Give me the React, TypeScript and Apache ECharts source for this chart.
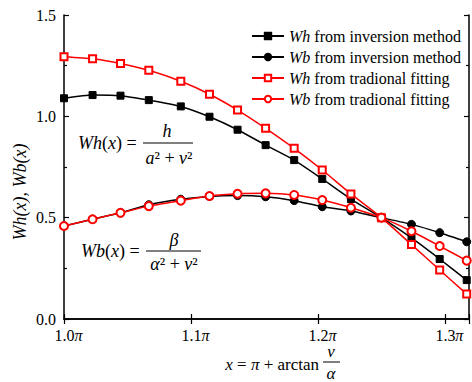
import React, { useEffect, useRef } from "react";
import * as echarts from "echarts";

const xVals = [1.0, 1.0225, 1.0445, 1.0668, 1.092, 1.1146, 1.1367, 1.1588, 1.1813, 1.2034, 1.226, 1.25, 1.2737, 1.2959, 1.3172];
const whInversion = [1.089, 1.105, 1.102, 1.08, 1.049, 0.998, 0.934, 0.858, 0.784, 0.691, 0.592, 0.5, 0.4, 0.296, 0.192];
const wbInversion = [0.459, 0.492, 0.524, 0.564, 0.591, 0.605, 0.609, 0.603, 0.584, 0.554, 0.533, 0.5, 0.467, 0.426, 0.381];
const whFitting = [1.294, 1.284, 1.261, 1.227, 1.173, 1.109, 1.031, 0.941, 0.842, 0.735, 0.617, 0.5, 0.367, 0.242, 0.123];
const wbFitting = [0.459, 0.492, 0.524, 0.557, 0.584, 0.607, 0.618, 0.62, 0.612, 0.587, 0.549, 0.5, 0.433, 0.36, 0.288];

const seriesNames = [
  "Wh from inversion method",
  "Wb from inversion method",
  "Wh from tradional fitting",
  "Wb from tradional fitting",
];

const FONT = "'Liberation Serif', 'Times New Roman', serif";

export default function App() {
  const ref = useRef<HTMLDivElement>(null);

  useEffect(() => {
    if (!ref.current) return;
    const chart = echarts.init(ref.current, null, { renderer: "svg" });
    const pair = (arr: number[]) => xVals.map((x, i) => [x, arr[i]]);

    const mk = (name: string, arr: number[], color: string, symbol: string, size: number) => ({
      name,
      type: "line",
      data: pair(arr),
      smooth: 0.2,
      symbol,
      symbolSize: size,
      lineStyle: { color, width: 1.5 },
      itemStyle: { color, borderColor: color, borderWidth: 1 },
      z: 3,
    });

    const baseAxis = {
      axisLine: { show: true, lineStyle: { color: "#000", width: 1.5 } },
      splitLine: { show: false },
    };

    const yLabel = (v: number) => v.toFixed(1);
    const xLabel = (v: number) => {
      if (Math.abs(v * 10 - Math.round(v * 10)) > 1e-6) return "";
      return `{n|${v.toFixed(1)}}{p|π}`;
    };

    const plain = (x: number, y: number, text: string, font: string, align = "center") => ({
      type: "text",
      x,
      y,
      style: { text, font, fill: "#000", align, verticalAlign: "middle" },
      z: 10,
    });

    const richText = (x: number, y: number, text: string, rich: any, size: number, align = "center") => ({
      type: "text",
      x,
      y,
      style: {
        text,
        rich,
        font: `${size}px ${FONT}`,
        fill: "#000",
        align,
        verticalAlign: "middle",
      },
      z: 10,
    });

    const richF = {
      i: { fontFamily: FONT, fontSize: 18, fontStyle: "italic", color: "#000" },
      n: { fontFamily: FONT, fontSize: 18, color: "#000" },
    };
    const richX = {
      i: { fontFamily: FONT, fontSize: 17, fontStyle: "italic", color: "#000" },
      n: { fontFamily: FONT, fontSize: 17, color: "#000" },
    };

    chart.setOption({
      animation: false,
      backgroundColor: "#fff",
      grid: { left: 64, top: 15, right: 0, bottom: 63 },
      legend: {
        orient: "vertical",
        left: 246,
        top: 23,
        itemWidth: 32,
        itemHeight: 8,
        itemGap: 5,
        data: seriesNames,
        formatter: (name: string) => {
          const parts = name.split(" ");
          return `{i|${parts[0]}} ${parts.slice(1).join(" ")}`;
        },
        textStyle: {
          fontFamily: FONT,
          fontSize: 16,
          lineHeight: 16,
          color: "#000",
          rich: {
            i: { fontFamily: FONT, fontSize: 16, fontStyle: "italic", color: "#000" },
          },
        },
      },
      xAxis: [
        {
          ...baseAxis,
          type: "value",
          min: 1.0,
          max: 1.319,
          interval: 0.1,
          position: "bottom",
          axisTick: { show: true, inside: true, length: 5, lineStyle: { color: "#000", width: 1.2 } },
          axisLabel: {
            show: true,
            margin: 8,
            padding: [0, 0, 0, 9],
            formatter: xLabel,
            rich: {
              n: { fontFamily: FONT, fontSize: 16, color: "#000" },
              p: { fontFamily: FONT, fontSize: 16, fontStyle: "italic", color: "#000" },
            },
          },
        },
        {
          ...baseAxis,
          type: "value",
          min: 1.0,
          max: 1.319,
          interval: 0.1,
          position: "top",
          axisTick: { show: true, inside: true, length: 5, lineStyle: { color: "#000", width: 1.2 } },
          axisLabel: { show: false },
        },
      ],
      yAxis: [
        {
          ...baseAxis,
          type: "value",
          min: 0,
          max: 1.5,
          interval: 0.5,
          position: "left",
          axisTick: { show: true, inside: true, length: 5, lineStyle: { color: "#000", width: 1.2 } },
          minorTick: { show: true, splitNumber: 2, length: 3, lineStyle: { color: "#000", width: 1.2 } },
          axisLabel: {
            show: true,
            margin: 8,
            formatter: yLabel,
            fontFamily: FONT,
            fontSize: 16,
            color: "#000",
          },
        },
        {
          ...baseAxis,
          type: "value",
          min: 0,
          max: 1.5,
          interval: 0.5,
          position: "right",
          axisTick: { show: true, inside: true, length: 5, lineStyle: { color: "#000", width: 1.2 } },
          minorTick: { show: true, splitNumber: 2, length: 3, lineStyle: { color: "#000", width: 1.2 } },
          axisLabel: { show: false },
        },
      ],
      series: [
        mk(seriesNames[0], whInversion, "#000000", "rect", 7),
        mk(seriesNames[1], wbInversion, "#000000", "circle", 8),
        mk(seriesNames[2], whFitting, "#ff0000", "emptyRect", 7),
        mk(seriesNames[3], wbFitting, "#ff0000", "emptyCircle", 8),
      ],
      graphic: [
        // y-axis title
        {
          type: "text",
          x: 20,
          y: 192,
          rotation: Math.PI / 2,
          style: {
            text: "Wh(x), Wb(x)",
            font: `italic 18px ${FONT}`,
            fill: "#000",
            align: "center",
            verticalAlign: "middle",
          },
        },
        // x-axis title
        richText(319, 364, "{i|x} {n|=} {i|π} {n|+ arctan}", richX, 17, "right"),
        plain(331, 351, "v", `italic 17px ${FONT}`),
        { type: "line", shape: { x1: 323, y1: 362, x2: 340, y2: 362 }, style: { stroke: "#000", lineWidth: 1 } },
        plain(331, 373, "α", `italic 17px ${FONT}`),
        // Wh formula
        richText(78, 143, "{i|Wh}{n|(}{i|x}{n|) =}", richF, 18, "left"),
        plain(167, 131, "h", `italic 18px ${FONT}`),
        { type: "line", shape: { x1: 143, y1: 143, x2: 193, y2: 143 }, style: { stroke: "#000", lineWidth: 1 } },
        richText(169, 158, "{i|a}{n|² + }{i|v}{n|²}", richF, 18),
        // Wb formula
        richText(81, 251, "{i|Wb}{n|(}{i|x}{n|) =}", richF, 18, "left"),
        plain(174, 240, "β", `italic 18px ${FONT}`),
        { type: "line", shape: { x1: 146, y1: 251, x2: 201, y2: 251 }, style: { stroke: "#000", lineWidth: 1 } },
        richText(174, 264, "{i|α}{n|² + }{i|v}{n|²}", richF, 18),
      ],
    });

    return () => chart.dispose();
  }, []);

  return (
    <div
      ref={ref}
      style={{ position: "fixed", left: 0, top: 0, width: 472, height: 382 }}
    />
  );
}
